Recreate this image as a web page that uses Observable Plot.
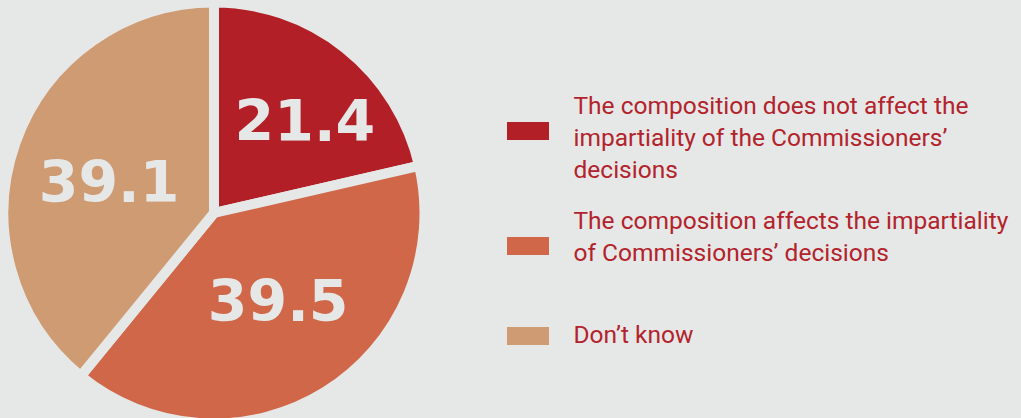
<!DOCTYPE html>
<html>
<head>
<meta charset="utf-8">
<script src="https://cdn.jsdelivr.net/npm/d3@7"></script>
<script src="https://cdn.jsdelivr.net/npm/@observablehq/plot@0.6"></script>
<style>
  html, body { margin: 0; padding: 0; background: #e6e8e7; }
  #chart { width: 1021px; height: 418px; overflow: hidden; }
</style>
</head>
<body>
<div id="chart"></div>
<script>
// ---- data ----
const categories = [
  "The composition does not affect the impartiality of the Commissioners’ decisions",
  "The composition affects the impartiality of Commissioners’ decisions",
  "Don’t know"
];
const values = [21.4, 39.5, 39.1];
const valueLabels = ["21.4", "39.5", "39.1"];
const legendLines = [
  ["The composition does not affect the", "impartiality of the Commissioners’", "decisions"],
  ["The composition affects the impartiality", "of Commissioners’ decisions"],
  ["Don’t know"]
];
const colors = ["#b31f26", "#cf6748", "#cf9b72"];

// ---- layout (not data) ----
const W = 1021, H = 418;
const bg = "#e6e8e7";
const cx = 214, cy = 213, R = 205.5, gap = 10;
const labelOffsets = [[20, -2], [4, -7], [1, 8]];
const swatchY = [131, 246, 336];
const legendTextY = [91, 206, 320];

const data = categories.map((c, i) => ({
  category: c, value: values[i], label: valueLabels[i], color: colors[i],
  lines: legendLines[i], i
}));

const arcs = d3.pie().sort(null).value(d => d.value)(data);
const labelArc = d3.arc().innerRadius(0).outerRadius(R * 1.1);
arcs.forEach((a, i) => {
  const [x, y] = labelArc.centroid(a);
  a.data.lx = cx + x + labelOffsets[i][0];
  a.data.ly = cy + y + labelOffsets[i][1];
});

function pieMark(index, scales, channels, dimensions, context) {
  const g = d3.create("svg:g")
    .attr("transform", `translate(${cx},${cy})`);
  const arc = d3.arc().innerRadius(0).outerRadius(R + gap / 2);
  g.selectAll("path")
    .data(arcs)
    .join("path")
    .attr("d", arc)
    .attr("fill", d => d.data.color)
    .attr("stroke", bg)
    .attr("stroke-width", gap)
    .attr("stroke-linejoin", "miter");
  return g.node();
}

const chart = Plot.plot({
  width: W,
  height: H,
  margin: 0,
  style: { background: bg, overflow: "hidden" },
  x: { type: "identity", axis: null },
  y: { type: "identity", axis: null },
  marks: [
    pieMark,
    Plot.text(data, {
      x: d => d.lx,
      y: d => d.ly,
      text: d => d.label,
      fill: bg,
      fontSize: 57,
      fontWeight: "bold",
      fontFamily: "DejaVu Sans",
      textAnchor: "middle"
    }),
    Plot.rect(data, {
      x1: () => 507,
      x2: () => 549,
      y1: d => swatchY[d.i] - 9,
      y2: d => swatchY[d.i] + 9,
      fill: d => d.color
    }),
    Plot.text(data, {
      x: () => 573,
      y: d => legendTextY[d.i],
      text: d => d.lines.join("\n"),
      textAnchor: "start",
      lineAnchor: "top",
      lineHeight: 32 / 24.5,
      fontSize: 24.5,
      fontFamily: "Roboto",
      fill: "#b3232c"
    })
  ]
});

document.getElementById("chart").appendChild(chart);
</script>
</body>
</html>
